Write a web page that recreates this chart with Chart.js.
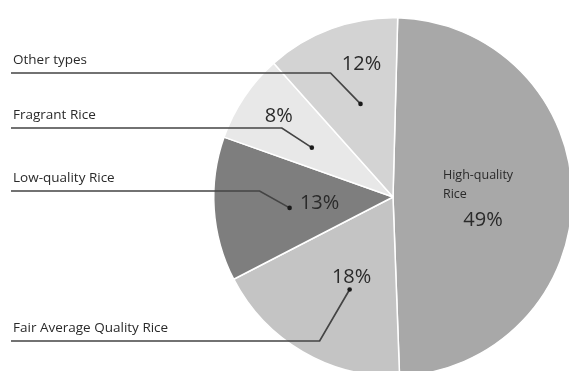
<!DOCTYPE html>
<html>
<head>
<meta charset="utf-8">
<script src="https://cdn.jsdelivr.net/npm/chart.js@4"></script>
<style>
  html, body { margin: 0; padding: 0; background: #fff; overflow: hidden; }
  #wrap { width: 569px; height: 371px; overflow: hidden; position: relative; }
  canvas { position: absolute; left: 0; top: 0; }
</style>
</head>
<body>
<div id="wrap"><canvas id="rice-chart" width="600" height="400"></canvas></div>
<script>
const categories = ['High-quality Rice', 'Fair Average Quality Rice', 'Low-quality Rice', 'Fragrant Rice', 'Other types'];
const shares = [49, 18, 13, 8, 12];
const sliceColors = ['#a8a8a8', '#c4c4c4', '#7e7e7e', '#e8e8e8', '#d3d3d3'];

// callout layout: where the dot sits in the slice (share of the sweep, share of the radius),
// y of the leader line and offset of the % text from the dot
const anchorAt = [null, [0.42, 0.57], [0.455, 0.58], [0.41, 0.53], [0.52, 0.55]];
const leaderY = [null, 341, 191, 128, 73];
const pctOffset = [null, [2, -12], [30, -5], [-33, -31], [1, -40]];

const FONT = '"Open Sans", "Noto Sans", sans-serif';

const calloutPlugin = {
    id: 'callouts',
    afterDatasetsDraw(chart) {
        const ctx = chart.ctx;
        const arcs = chart.getDatasetMeta(0).data;
        ctx.save();
        ctx.textBaseline = 'middle';

        arcs.forEach((arc, i) => {
            const r = arc.outerRadius;

            if (i === 0) {
                // label inside the big slice
                ctx.fillStyle = '#2a2a2a';
                ctx.font = `12.5px ${FONT}`;
                ctx.textAlign = 'left';
                ctx.fillText('High-quality', arc.x + 50, arc.y - 22);
                ctx.fillText('Rice', arc.x + 50, arc.y - 3);
                ctx.font = `20px ${FONT}`;
                ctx.textAlign = 'center';
                ctx.fillText(shares[i] + '%', arc.x + 90, arc.y + 23);
                return;
            }

            const a = arc.startAngle + (arc.endAngle - arc.startAngle) * anchorAt[i][0];
            const dx = arc.x + Math.cos(a) * r * anchorAt[i][1];
            const dy = arc.y + Math.sin(a) * r * anchorAt[i][1];
            const ly = leaderY[i];
            const ex = dx - 30;

            ctx.strokeStyle = '#444';
            ctx.lineWidth = 1.7;
            ctx.beginPath();
            ctx.moveTo(dx, dy);
            ctx.lineTo(ex, ly);
            ctx.lineTo(11, ly);
            ctx.stroke();

            ctx.beginPath();
            ctx.arc(dx, dy, 2.3, 0, Math.PI * 2);
            ctx.fillStyle = '#1a1a1a';
            ctx.fill();

            ctx.fillStyle = '#2a2a2a';
            ctx.font = `13.5px ${FONT}`;
            ctx.textAlign = 'left';
            ctx.fillText(categories[i], 13, ly - 13);

            ctx.font = `20px ${FONT}`;
            ctx.textAlign = 'center';
            ctx.fillText(shares[i] + '%', dx + pctOffset[i][0], dy + pctOffset[i][1]);
        });
        ctx.restore();
    }
};

new Chart(document.getElementById('rice-chart').getContext('2d'), {
    type: 'pie',
    data: {
        labels: categories,
        datasets: [{
            data: shares,
            backgroundColor: sliceColors,
            borderColor: '#ffffff',
            borderWidth: 1.5
        }]
    },
    options: {
        responsive: false,
        animation: false,
        rotation: 1.5,
        layout: { padding: { left: 213, top: 17, right: 27, bottom: 23 } },
        plugins: {
            legend: { display: false },
            tooltip: { enabled: false }
        }
    },
    plugins: [calloutPlugin]
});
</script>
</body>
</html>
